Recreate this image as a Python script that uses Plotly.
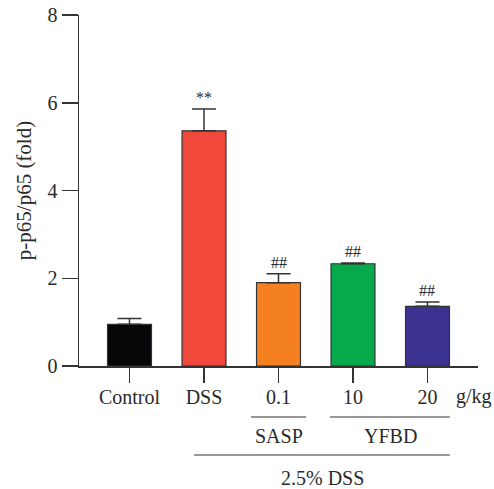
import plotly.graph_objects as go

categories = ["Control", "DSS", "0.1", "10", "20"]
values = [0.95, 5.36, 1.90, 2.33, 1.36]
errors = [0.13, 0.50, 0.20, 0.02, 0.10]
colors = ["#060609", "#f0483b", "#f58021", "#06aa4b", "#3b3292"]
marks = ["", "**", "##", "##", "##"]
y_ticks = [0, 2, 4, 6, 8]

FONT = "Liberation Serif"
AX = "#333333"
TXT = "#2a2a2a"

fig = go.Figure()
fig.add_trace(go.Bar(
    x=list(range(len(categories))), y=values,
    width=0.59,
    marker=dict(color=colors, line=dict(color=AX, width=1.2)),
    error_y=dict(type="data", array=errors, arrayminus=[0]*len(errors),
                 symmetric=False, color=AX, thickness=1.5, width=12),
))

for i, (v, e, m) in enumerate(zip(values, errors, marks)):
    if m:
        fig.add_annotation(x=i, y=v + e, text=m, showarrow=False,
                           yanchor="bottom", yshift=1,
                           font=dict(family=FONT, size=16, color=TXT))

# group labels beneath axis
lbl = dict(showarrow=False, xref="x", yref="paper", yanchor="middle",
           font=dict(family=FONT, size=20, color=TXT))
fig.add_annotation(x=4.62, y=-0.088, text="g/kg", **lbl)
line_style = dict(color="#333", width=1.2)
fig.add_shape(type="line", xref="x", yref="paper", x0=1.63, x1=2.37,
              y0=-0.1453, y1=-0.1453, line=line_style)
fig.add_shape(type="line", xref="x", yref="paper", x0=2.69, x1=4.30,
              y0=-0.1453, y1=-0.1453, line=line_style)
fig.add_shape(type="line", xref="x", yref="paper", x0=0.866, x1=4.30,
              y0=-0.2536, y1=-0.2536, line=line_style)
fig.add_annotation(x=2.0, y=-0.199, text="SASP", **lbl)
fig.add_annotation(x=3.5, y=-0.199, text="YFBD", **lbl)
fig.add_annotation(x=2.59, y=-0.319, text="2.5% DSS", **lbl)

fig.update_layout(
    width=494, height=489,
    margin=dict(l=79, r=16, t=15, b=123),
    plot_bgcolor="white", paper_bgcolor="white",
    showlegend=False,
    font=dict(family=FONT, size=20, color=TXT),
    xaxis=dict(range=[-0.678, 4.678], tickmode="array",
               tickvals=list(range(len(categories))), ticktext=categories,
               showline=True, linecolor=AX, linewidth=1.5,
               ticks="outside", ticklen=15, tickwidth=1.5, tickcolor=AX,
               showgrid=False, zeroline=False, fixedrange=True,
               automargin=False, ticklabelstandoff=-3),
    yaxis=dict(range=[0, 8], tickvals=y_ticks,
               showline=True, linecolor=AX, linewidth=1.5,
               ticks="outside", ticklen=16, tickwidth=1.5, tickcolor=AX,
               showgrid=False, zeroline=False, automargin=False,
               fixedrange=True,
               title=dict(text="p-p65/p65 (fold)", standoff=10,
                          font=dict(family=FONT, size=21))),
)

fig.write_html("out.html",
               config={"displayModeBar": False, "staticPlot": True},
               post_script="document.body.style.margin='0px';document.body.style.overflow='hidden';")
